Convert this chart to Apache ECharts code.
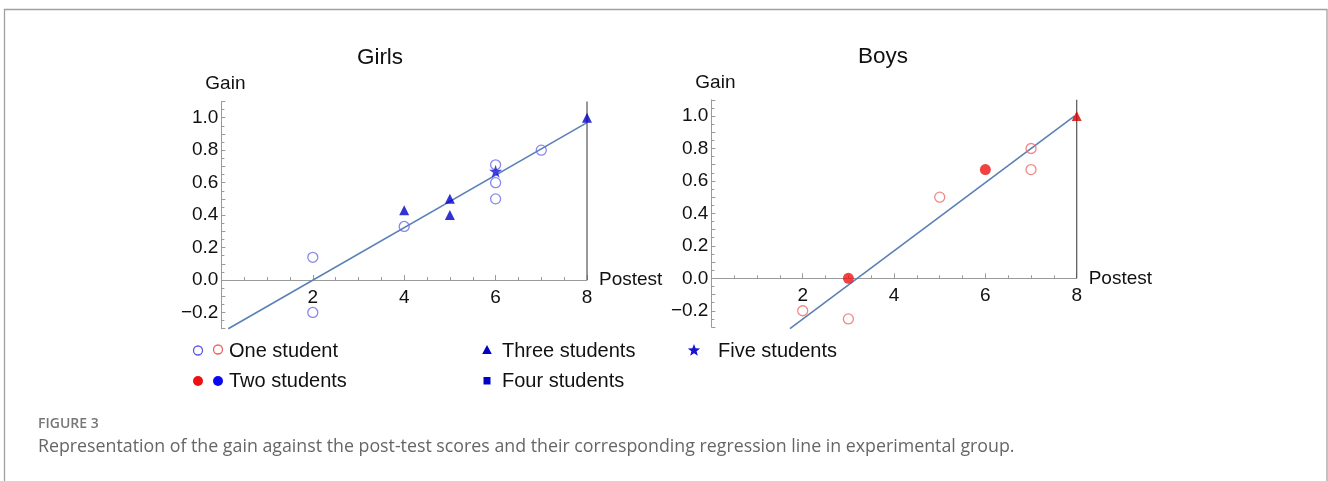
<!DOCTYPE html>
<html>
<head>
<meta charset="utf-8">
<title>Gain vs Postest</title>
<script src="https://cdn.jsdelivr.net/npm/echarts@6/dist/echarts.min.js"></script>
<style>
  html, body { margin: 0; padding: 0; background: #fff; }
  #chart { width: 1328px; height: 481px; }
</style>
</head>
<body>
<div id="chart"></div>
<script>
// girls (blue) - points by number of students
var girlsOne = [[2, 0.14], [2, -0.2], [4, 0.33], [6, 0.71], [6, 0.6], [6, 0.5], [7, 0.8]]
var girlsThree = [[4, 0.43], [5, 0.5], [5, 0.4], [8, 1.0]]
var girlsFive = [[6, 0.67]]
var girlsFit = [[0.15, -0.3], [8, 0.97]]

// boys (red)
var boysOne = [[2, -0.2], [3, -0.25], [5, 0.5], [7, 0.8], [7, 0.67]]
var boysTwo = [[3, 0], [6, 0.67]]
var boysThree = [[8, 1.0]]
var boysFit = [[1.72, -0.31], [7.95, 1.0]]

var panelTitles = ['Girls', 'Boys']
var xTickLabels = [2, 4, 6, 8]
var yTickLabels = [-0.2, 0, 0.2, 0.4, 0.6, 0.8, 1.0]
var edgeLine = [[8, 0], [8, 1.1]]

var font = "'Liberation Sans', Arial, sans-serif"
var axisColor = '#9a9a9a'
var fitColor = '#5b80b6'
var plotH = 227.2 // px for y from -0.3 to 1.1
var zeroOffset = -plotH * 0.3 / 1.4 // x axis sits on y = 0

var chart = echarts.init(document.getElementById('chart'), null, { renderer: 'canvas' })

function xAxisFor(grid) {
  return {
    type: 'value',
    gridIndex: grid,
    position: 'bottom',
    offset: zeroOffset,
    min: 0,
    max: 8,
    interval: 2,
    name: 'Postest',
    nameLocation: 'end',
    nameGap: 12,
    nameTextStyle: { color: '#111', fontSize: 19, fontFamily: font },
    axisLine: { onZero: false, lineStyle: { color: axisColor, width: 1 } },
    axisTick: { inside: true, length: 5, lineStyle: { color: axisColor } },
    minorTick: { show: true, splitNumber: 4, length: 3, lineStyle: { color: axisColor } },
    axisLabel: {
      margin: 8,
      color: '#111',
      fontSize: 19,
      fontFamily: font,
      formatter: function (v) { return xTickLabels.indexOf(v) >= 0 ? String(v) : '' }
    },
    splitLine: { show: false }
  }
}

function yAxisFor(grid) {
  return {
    type: 'value',
    gridIndex: grid,
    min: -0.3,
    max: 1.1,
    interval: 0.1,
    name: 'Gain',
    nameLocation: 'end',
    nameGap: 8,
    nameTextStyle: { color: '#111', fontSize: 19, fontFamily: font, padding: [0, 0, 0, 8] },
    axisLine: { show: true, onZero: false, lineStyle: { color: axisColor, width: 1 } },
    axisTick: { show: true, inside: true, length: 4, lineStyle: { color: axisColor } },
    minorTick: { show: true, splitNumber: 2, length: 3, lineStyle: { color: axisColor } },
    axisLabel: {
      margin: 3,
      color: '#111',
      fontSize: 19,
      fontFamily: font,
      formatter: function (v) {
        for (var i = 0; i < yTickLabels.length; i++) {
          if (Math.abs(yTickLabels[i] - v) < 1e-6) {
            return yTickLabels[i].toFixed(1).replace('-', '\u2212')
          }
        }
        return ''
      }
    },
    splitLine: { show: false }
  }
}

function fitSeries(grid, data) {
  return {
    type: 'line',
    xAxisIndex: grid,
    yAxisIndex: grid,
    data: data,
    symbol: 'none',
    silent: true,
    clip: false,
    z: 1,
    lineStyle: { color: fitColor, width: 1.6 }
  }
}

function edgeSeries(grid) {
  return {
    type: 'line',
    xAxisIndex: grid,
    yAxisIndex: grid,
    data: edgeLine,
    symbol: 'none',
    silent: true,
    clip: false,
    z: 1,
    lineStyle: { color: '#555', width: 1.2 }
  }
}

function dots(grid, data, symbol, size, fill, stroke) {
  return {
    type: 'scatter',
    xAxisIndex: grid,
    yAxisIndex: grid,
    data: data,
    symbol: symbol,
    symbolSize: size,
    clip: false,
    z: 3,
    itemStyle: {
      color: fill,
      borderColor: stroke || fill,
      borderWidth: stroke ? 1.3 : 0
    }
  }
}

var series = []
series.push(fitSeries(0, girlsFit))
series.push(edgeSeries(0))
series.push(dots(0, girlsOne, 'circle', 10, 'rgba(0,0,0,0)', '#6a6ae8'))
series.push(dots(0, girlsThree, 'triangle', 10, '#0000c8'))
series.push(dots(0, girlsFive, 'path://M50,0 L61.8,36.2 L100,36.2 L69.1,58.8 L80.9,95.1 L50,72.7 L19.1,95.1 L30.9,58.8 L0,36.2 L38.2,36.2 Z', 13, '#1414d2'))
series.push(fitSeries(1, boysFit))
series.push(edgeSeries(1))
series.push(dots(1, boysOne, 'circle', 10, 'rgba(0,0,0,0)', '#ee6a6a'))
series.push(dots(1, boysTwo, 'circle', 11, '#ee1111'))
series.push(dots(1, boysThree, 'triangle', 10, '#d40000'))

// legend glyphs and captions
function starPoints(cx, cy, r) {
  var pts = []
  for (var i = 0; i < 10; i++) {
    var a = -Math.PI / 2 + i * Math.PI / 5
    var rr = i % 2 === 0 ? r : r * 0.42
    pts.push([cx + rr * Math.cos(a), cy + rr * Math.sin(a)])
  }
  return pts
}

var legendText = { fill: '#111', fontSize: 20, fontFamily: font, verticalAlign: 'middle' }

var graphics = [
  { type: 'rect', shape: { x: 4.5, y: 9.5, width: 1322.5, height: 520 }, style: { fill: 'none', stroke: '#a0a0a0', lineWidth: 1.3 }, silent: true },
  { type: 'text', x: 380, y: 58, style: { text: panelTitles[0], fill: '#111', fontSize: 22.5, fontFamily: font, align: 'center', verticalAlign: 'middle' } },
  { type: 'text', x: 883, y: 57, style: { text: panelTitles[1], fill: '#111', fontSize: 22.5, fontFamily: font, align: 'center', verticalAlign: 'middle' } },

  { type: 'circle', shape: { cx: 198, cy: 350.5, r: 4.5 }, style: { fill: 'none', stroke: '#5a5ae6', lineWidth: 1.3 } },
  { type: 'circle', shape: { cx: 218, cy: 349.5, r: 4.5 }, style: { fill: 'none', stroke: '#f06060', lineWidth: 1.3 } },
  { type: 'text', x: 229, y: 351, style: Object.assign({ text: 'One student' }, legendText) },
  { type: 'polygon', shape: { points: [[487, 345], [482.2, 354], [491.8, 354]] }, style: { fill: '#0000c8' } },
  { type: 'text', x: 502, y: 351, style: Object.assign({ text: 'Three students' }, legendText) },
  { type: 'polygon', shape: { points: starPoints(694, 350.5, 6.5) }, style: { fill: '#1414d2' } },
  { type: 'text', x: 718, y: 351, style: Object.assign({ text: 'Five students' }, legendText) },

  { type: 'circle', shape: { cx: 198, cy: 381, r: 5 }, style: { fill: '#ee1111' } },
  { type: 'circle', shape: { cx: 218, cy: 381, r: 5 }, style: { fill: '#0a0af0' } },
  { type: 'text', x: 229, y: 381, style: Object.assign({ text: 'Two students' }, legendText) },
  { type: 'rect', shape: { x: 483.5, y: 377, width: 7, height: 7.5 }, style: { fill: '#0000c8' } },
  { type: 'text', x: 502, y: 381, style: Object.assign({ text: 'Four students' }, legendText) },

  { type: 'text', x: 38, y: 424, style: { text: 'FIGURE 3', fill: '#777', fontSize: 14, fontWeight: 600, fontFamily: "'Open Sans', sans-serif", verticalAlign: 'middle' } },
  { type: 'text', x: 38, y: 447, style: { text: 'Representation of the gain against the post-test scores and their corresponding regression line in experimental group.', fill: '#666', fontSize: 17.8, fontFamily: "'Open Sans', sans-serif", verticalAlign: 'middle' } }
]

var option = {
  backgroundColor: '#fff',
  animation: false,
  grid: [
    { left: 221.4, top: 101.5, width: 365.6, height: plotH },
    { left: 711.4, top: 99.8, width: 365.3, height: plotH }
  ],
  xAxis: [xAxisFor(0), xAxisFor(1)],
  yAxis: [yAxisFor(0), yAxisFor(1)],
  series: series,
  graphic: graphics
}

chart.setOption(option)
window.onresize = chart.resize
</script>
</body>
</html>
